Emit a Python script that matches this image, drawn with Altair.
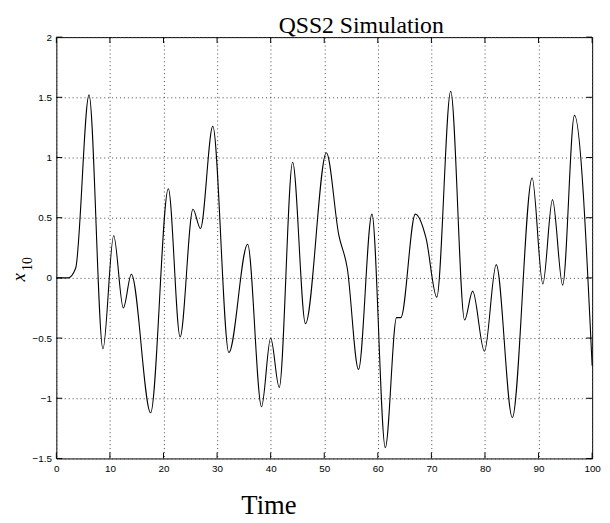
import altair as alt
import pandas as pd

# Curve key points (time, x10)
times = [0, 2.2, 3.6, 6.1, 8.7, 10.7, 12.5, 14.0, 17.6, 20.9, 23.1, 25.5, 26.9,
         29.2, 32.2, 35.7, 38.3, 40.0, 41.6, 44.1, 46.5, 50.4, 52.7, 54.3, 56.4,
         58.9, 61.4, 63.5, 64.3, 67.0, 69.0, 71.0, 73.6, 76.2, 77.7, 79.9, 82.1,
         85.1, 88.8, 90.8, 92.6, 94.5, 96.7, 100]
values = [0, 0.0, 0.08, 1.52, -0.59, 0.35, -0.25, 0.03, -1.12, 0.74, -0.49, 0.57,
          0.41, 1.26, -0.62, 0.28, -1.07, -0.50, -0.91, 0.96, -0.38, 1.04, 0.36,
          0.08, -0.76, 0.53, -1.41, -0.33, -0.33, 0.53, 0.33, -0.16, 1.55, -0.35,
          -0.11, -0.61, 0.11, -1.16, 0.83, -0.05, 0.65, -0.06, 1.35, -0.73]

x_ticks = [0, 10, 20, 30, 40, 50, 60, 70, 80, 90, 100]
y_ticks = [-1.5, -1, -0.5, 0, 0.5, 1, 1.5, 2]

title_text = ["QSS2 Simulation"]
ylabel_main = ["x"]
ylabel_sub = ["10"]

W, H = 543, 427
TL = 6

df = pd.DataFrame({"t": times, "v": values})
xt = pd.DataFrame({"t": x_ticks})
yt = pd.DataFrame({"v": y_ticks})

xscale = alt.Scale(domain=[0, 100], nice=False, zero=False)
yscale = alt.Scale(domain=[-1.5, 2], nice=False, zero=False)

line = alt.Chart(df).mark_line(color="black", strokeWidth=1.1, interpolate="monotone").encode(
    x=alt.X("t:Q", scale=xscale,
            axis=alt.Axis(values=x_ticks, title="Time", format="d", labelFlush=False,
                          titleX=215, titleY=56, titleBaseline="alphabetic",
                          titleAlign="center")),
    y=alt.Y("v:Q", scale=yscale,
            axis=alt.Axis(values=y_ticks, title="", format="~f", labelFlush=False)),
)

tick_bottom = alt.Chart(xt).mark_rule(color="black", strokeWidth=1).encode(
    x="t:Q", y=alt.value(H), y2=alt.value(H - TL))
tick_top = alt.Chart(xt).mark_rule(color="black", strokeWidth=1).encode(
    x="t:Q", y=alt.value(0), y2=alt.value(TL))
tick_left = alt.Chart(yt).mark_rule(color="black", strokeWidth=1).encode(
    y="v:Q", x=alt.value(0), x2=alt.value(TL))
tick_right = alt.Chart(yt).mark_rule(color="black", strokeWidth=1).encode(
    y="v:Q", x=alt.value(W), x2=alt.value(W - TL))

title = alt.Chart(pd.DataFrame({"s": title_text})).mark_text(
    font="Liberation Serif", fontSize=24, color="black", align="center",
    baseline="alphabetic").encode(text="s:N", x=alt.value(309), y=alt.value(-4.5))

ylab = alt.Chart(pd.DataFrame({"s": ylabel_main})).mark_text(
    font="Liberation Serif", fontSize=19, fontStyle="italic", color="black",
    align="center", baseline="alphabetic", angle=270).encode(
    text="s:N", x=alt.value(-32), y=alt.value(243.5))

ysub = alt.Chart(pd.DataFrame({"s": ylabel_sub})).mark_text(
    font="Liberation Serif", fontSize=14, color="black",
    align="center", baseline="alphabetic", angle=270).encode(
    text="s:N", x=alt.value(-25), y=alt.value(230))

chart = alt.layer(line, tick_bottom, tick_top, tick_left, tick_right,
                  title, ylab, ysub).properties(
    width=W, height=H,
    autosize=alt.AutoSizeParams(type="none"),
    padding={"left": 49, "top": 26, "right": 10, "bottom": 70},
).configure_view(
    stroke="black", strokeWidth=1
).configure_axis(
    domain=False, ticks=False, grid=True,
    gridColor="#444", gridDash=[1, 3], gridWidth=1, gridOpacity=1,
    labelFont="Liberation Sans", labelFontSize=10, labelColor="black",
    titleFont="Liberation Serif", titleFontWeight="normal", titleColor="black",
    titleFontSize=27,
).configure_axisX(labelPadding=5).configure_axisY(labelPadding=5)

chart.save("out.html", embed_options={"renderer": "svg", "actions": False})
